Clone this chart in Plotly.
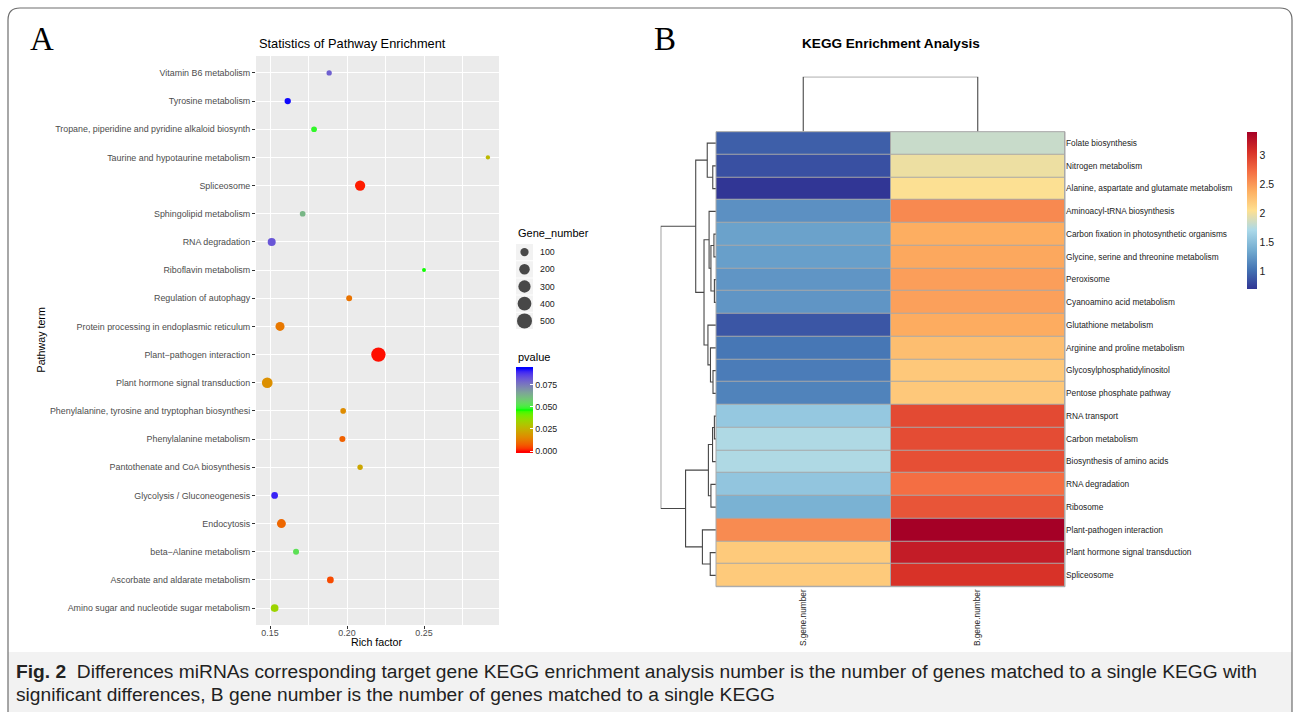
import numpy as np
import plotly.graph_objects as go

W, H = 1295, 712

# ---------------- Panel A data ----------------
PATHWAYS = [
    "Vitamin B6 metabolism",
    "Tyrosine metabolism",
    "Tropane, piperidine and pyridine alkaloid biosynth",
    "Taurine and hypotaurine metabolism",
    "Spliceosome",
    "Sphingolipid metabolism",
    "RNA degradation",
    "Riboflavin metabolism",
    "Regulation of autophagy",
    "Protein processing in endoplasmic reticulum",
    "Plant\u2212pathogen interaction",
    "Plant hormone signal transduction",
    "Phenylalanine, tyrosine and tryptophan biosynthesi",
    "Phenylalanine metabolism",
    "Pantothenate and CoA biosynthesis",
    "Glycolysis / Gluconeogenesis",
    "Endocytosis",
    "beta\u2212Alanine metabolism",
    "Ascorbate and aldarate metabolism",
    "Amino sugar and nucleotide sugar metabolism",
]
RICH_FACTOR = [0.1884, 0.1615, 0.1786, 0.2915, 0.2085, 0.1712, 0.1511, 0.2500, 0.2014, 0.1565,
               0.2204, 0.1482, 0.1975, 0.1970, 0.2085, 0.1530, 0.1574, 0.1669, 0.1892, 0.1530]
GENE_NUMBER = [20, 40, 27, 7, 185, 27, 90, 4, 32, 130,
               450, 210, 26, 34, 21, 50, 125, 33, 52, 80]
PVALUE = [0.080, 0.0925, 0.048, 0.027, 0.001, 0.062, 0.082, 0.046, 0.011, 0.012,
          0.0002, 0.017, 0.016, 0.008, 0.022, 0.090, 0.009, 0.053, 0.005, 0.034]
SIZE_BREAKS = [100, 200, 300, 400, 500]
PVALUE_TICKS = [0.000, 0.025, 0.050, 0.075]
RICH_TICKS = [0.15, 0.20, 0.25]
RICH_MINOR = [0.175, 0.225, 0.275]

# ---------------- Panel B data ----------------
KEGG_TERMS = [
    "Folate biosynthesis",
    "Nitrogen metabolism",
    "Alanine, aspartate and glutamate metabolism",
    "Aminoacyl-tRNA biosynthesis",
    "Carbon fixation in photosynthetic organisms",
    "Glycine, serine and threonine metabolism",
    "Peroxisome",
    "Cyanoamino acid metabolism",
    "Glutathione metabolism",
    "Arginine and proline metabolism",
    "Glycosylphosphatidylinositol",
    "Pentose phosphate pathway",
    "RNA transport",
    "Carbon metabolism",
    "Biosynthesis of amino acids",
    "RNA degradation",
    "Ribosome",
    "Plant-pathogen interaction",
    "Plant hormone signal transduction",
    "Spliceosome",
]
SAMPLES = ["S.gene.number", "B.gene.number"]
S_VALUES = [0.92, 0.84, 0.70, 1.20, 1.31, 1.29, 1.23, 1.23, 0.87, 1.05,
            1.08, 1.12, 1.58, 1.73, 1.73, 1.56, 1.41, 2.57, 2.20, 2.20]
B_VALUES = [1.83, 1.98, 2.04, 2.58, 2.39, 2.42, 2.47, 2.46, 2.40, 2.28,
            2.21, 2.21, 2.92, 2.91, 2.89, 2.72, 2.86, 3.40, 3.20, 3.05]
HEAT_TICKS = [1, 1.5, 2, 2.5, 3]
# row dendrogram (linkage: leaves 0..19 in display order, merges numbered from 20)
ROW_MERGE_LEFT = [1, 0, 4, 6, 22, 3, 10, 9, 8, 25, 21, 12, 31, 15, 32, 18, 17, 34, 30]
ROW_MERGE_RIGHT = [2, 20, 5, 7, 23, 24, 11, 26, 27, 28, 29, 13, 14, 16, 33, 19, 35, 36, 37]
ROW_MERGE_HEIGHT = [0.14, 0.38, 0.09, 0.07, 0.22, 0.30, 0.13, 0.24, 0.35, 0.52, 0.88,
                    0.07, 0.15, 0.22, 0.33, 0.25, 0.59, 1.32, 2.40]
COL_MERGE_LEFT = [0]
COL_MERGE_RIGHT = [1]
COL_MERGE_HEIGHT = [6.0]

CAPTION_1 = ("<b>Fig. 2</b>  Differences miRNAs corresponding target gene KEGG enrichment analysis "
             "number is the number of genes matched to a single KEGG with")
CAPTION_2 = "significant differences, B gene number is the number of genes matched to a single KEGG"

# ---------------- helpers ----------------
def fx(px):
    return px / W


def fy(py):
    return 1 - py / H


def srgb_to_lab(rgb):
    c = np.array(rgb, dtype=float) / 255
    lin = np.where(c <= 0.04045, c / 12.92, ((c + 0.055) / 1.055) ** 2.4)
    M = np.array([[0.4124564, 0.3575761, 0.1804375],
                  [0.2126729, 0.7151522, 0.0721750],
                  [0.0193339, 0.1191920, 0.9503041]])
    xyz = M @ lin / np.array([0.95047, 1.0, 1.08883])
    f = np.where(xyz > 0.008856, np.cbrt(xyz), 7.787 * xyz + 16 / 116)
    return np.array([116 * f[1] - 16, 500 * (f[0] - f[1]), 200 * (f[1] - f[2])])


def lab_to_srgb(lab):
    L, a, b = lab
    fy_ = (L + 16) / 116
    fx_ = fy_ + a / 500
    fz_ = fy_ - b / 200
    f = np.array([fx_, fy_, fz_])
    xyz = np.where(f ** 3 > 0.008856, f ** 3, (f - 16 / 116) / 7.787) * np.array([0.95047, 1.0, 1.08883])
    Minv = np.array([[3.2404542, -1.5371385, -0.4985314],
                     [-0.9692660, 1.8760108, 0.0415560],
                     [0.0556434, -0.2040259, 1.0572252]])
    lin = np.clip(Minv @ xyz, 0, 1)
    c = np.where(lin <= 0.0031308, 12.92 * lin, 1.055 * lin ** (1 / 2.4) - 0.055)
    c = np.clip(np.round(c * 255), 0, 255).astype(int)
    return "rgb(%d,%d,%d)" % tuple(c)


GRAD = [(255, 0, 0), (0, 255, 0), (0, 0, 255)]
GRAD_LAB = [srgb_to_lab(c) for c in GRAD]


def grad_color(t):
    t = min(max(t, 0.0), 1.0)
    seg = t * (len(GRAD_LAB) - 1)
    i = min(int(seg), len(GRAD_LAB) - 2)
    u = seg - i
    return lab_to_srgb(GRAD_LAB[i] * (1 - u) + GRAD_LAB[i + 1] * u)


p_min, p_max = min(PVALUE), max(PVALUE)
p_pad = (p_max - p_min) * 0.025 / 0.95
c_min, c_max = p_min - p_pad, p_max + p_pad
p_scale = []
for s in np.linspace(0, 1, 61):
    v = c_min + s * (c_max - c_min)
    p_scale.append([float(s), grad_color((v - p_min) / (p_max - p_min))])


def point_diameter(n):
    return 2.88 + 0.542 * np.sqrt(np.array(n, dtype=float))


HEAT_COLORS = ["#313695", "#4575B4", "#74ADD1", "#ABD9E9", "#FEE090",
               "#FDAE61", "#F46D43", "#D73027", "#A50026"]
heat_scale = [[i / (len(HEAT_COLORS) - 1), c] for i, c in enumerate(HEAT_COLORS)]


def dendro_lines(left, right, height, n_leaves):
    pos = [float(i) for i in range(n_leaves)]
    hgt = [0.0] * n_leaves
    hs, ps = [], []
    for l, r, h in zip(left, right, height):
        hs += [hgt[l], h, h, hgt[r], None]
        ps += [pos[l], pos[l], pos[r], pos[r], None]
        pos.append((pos[l] + pos[r]) / 2)
        hgt.append(h)
    return hs, ps


SANS = "Liberation Sans, Arial, Helvetica, sans-serif"
fig = go.Figure()

# ---------------- Panel A: bubble chart ----------------
fig.add_trace(go.Scatter(
    x=RICH_FACTOR, y=PATHWAYS, mode="markers", xaxis="x", yaxis="y",
    marker=dict(size=point_diameter(GENE_NUMBER), color=PVALUE, colorscale=p_scale,
                cmin=c_min, cmax=c_max, opacity=1, line=dict(width=0),
                colorbar=dict(x=fx(516), xanchor="left", y=fy(410), yanchor="middle",
                              lenmode="pixels", len=86, thickness=17, outlinewidth=0,
                              xpad=0, ypad=0, tickvals=PVALUE_TICKS,
                              ticktext=["%.3f" % v for v in PVALUE_TICKS],
                              ticks="inside", ticklen=3, tickcolor="white", tickwidth=1,
                              tickfont=dict(family=SANS, size=8.8, color="#1a1a1a"))),
    hoverinfo="skip"))

# size legend keys
fig.add_trace(go.Scatter(
    x=[0.5] * len(SIZE_BREAKS), y=list(range(len(SIZE_BREAKS))), mode="markers",
    xaxis="x3", yaxis="y3",
    marker=dict(size=point_diameter(SIZE_BREAKS), color="black", line=dict(width=0)),
    hoverinfo="skip"))

# ---------------- Panel B: heatmap ----------------
z = [[s, b] for s, b in zip(S_VALUES, B_VALUES)]
all_vals = S_VALUES + B_VALUES
fig.add_trace(go.Heatmap(
    z=z, x=list(range(len(SAMPLES))), y=list(range(len(KEGG_TERMS))),
    xaxis="x2", yaxis="y2", colorscale=heat_scale, zmin=min(all_vals), zmax=max(all_vals),
    xgap=1, ygap=1, hoverinfo="skip",
    colorbar=dict(x=fx(1247.3), xanchor="left", y=fy(210.7), yanchor="middle",
                  lenmode="pixels", len=157, thickness=10, outlinewidth=0, xpad=0, ypad=0,
                  tickvals=HEAT_TICKS, ticktext=[("%g" % v) for v in HEAT_TICKS],
                  ticks="", tickfont=dict(family=SANS, size=10.5, color="#222222"))))

rh, rp = dendro_lines(ROW_MERGE_LEFT, ROW_MERGE_RIGHT, ROW_MERGE_HEIGHT, len(KEGG_TERMS))
fig.add_trace(go.Scatter(x=rh, y=rp, mode="lines", xaxis="x4", yaxis="y4",
                         line=dict(color="#474747", width=1.1), hoverinfo="skip"))
ch, cp = dendro_lines(COL_MERGE_LEFT, COL_MERGE_RIGHT, COL_MERGE_HEIGHT, len(SAMPLES))
fig.add_trace(go.Scatter(x=cp, y=ch, mode="lines", xaxis="x5", yaxis="y5",
                         line=dict(color="#474747", width=1.1), hoverinfo="skip"))

# ---------------- axes ----------------
hide = dict(visible=False, showgrid=False, zeroline=False, fixedrange=True)
tick_font = dict(family=SANS, size=8.9, color="#4d4d4d")
n_path = len(PATHWAYS)
fig.update_layout(
    xaxis=dict(domain=[fx(256), fx(499)], range=[0.1409, 0.2987], anchor="y",
               tickvals=RICH_TICKS, ticktext=["%.2f" % v for v in RICH_TICKS],
               showgrid=True, gridcolor="white", gridwidth=1.2, zeroline=False,
               ticks="outside", ticklen=3, tickcolor="#333333", tickwidth=1,
               tickfont=tick_font, ticklabelstandoff=-4,
               minor=dict(tickvals=RICH_MINOR, showgrid=True, gridcolor="white",
                          gridwidth=0.6, ticks="")),
    yaxis=dict(domain=[fy(625), fy(56)], type="category", categoryorder="array",
               categoryarray=PATHWAYS[::-1], range=[-0.6, n_path - 0.4], anchor="x",
               showgrid=True, gridcolor="white", gridwidth=1.2, zeroline=False,
               ticks="outside", ticklen=3, tickcolor="#333333", tickwidth=1,
               tickfont=tick_font),
    xaxis2=dict(domain=[fx(716), fx(1065)], range=[-0.5, len(SAMPLES) - 0.5], anchor="y2",
                tickvals=list(range(len(SAMPLES))), ticktext=SAMPLES, tickangle=-90,
                ticks="", showgrid=False, zeroline=False,
                tickfont=dict(family=SANS, size=8.3, color="#222222")),
    yaxis2=dict(domain=[fy(586.7), fy(131.7)], range=[len(KEGG_TERMS) - 0.5, -0.5], anchor="x2",
                side="right", tickvals=list(range(len(KEGG_TERMS))), ticktext=KEGG_TERMS,
                ticks="", showgrid=False, zeroline=False,
                tickfont=dict(family=SANS, size=8.3, color="#222222")),
    xaxis3=dict(domain=[fx(516), fx(533)], range=[0, 1], anchor="y3", **hide),
    yaxis3=dict(domain=[fy(329.5), fy(243.5)], range=[len(SIZE_BREAKS) - 0.5, -0.5],
                anchor="x3", **hide),
    xaxis4=dict(domain=[fx(660.7), fx(716)], range=[max(ROW_MERGE_HEIGHT), 0], anchor="y4", **hide),
    yaxis4=dict(domain=[fy(586.7), fy(131.7)], range=[len(KEGG_TERMS) - 0.5, -0.5], anchor="x4", **hide),
    xaxis5=dict(domain=[fx(716), fx(1065)], range=[-0.5, len(SAMPLES) - 0.5], anchor="y5", **hide),
    yaxis5=dict(domain=[fy(131.7), fy(76.7)], range=[0, max(COL_MERGE_HEIGHT)], anchor="x5", **hide),
)

# ---------------- shapes ----------------
shapes = []
# caption band
shapes.append(dict(type="rect", xref="paper", yref="paper", x0=fx(8), x1=fx(1292),
                   y0=fy(730), y1=fy(652), fillcolor="#F2F2F2", line=dict(width=0), layer="below"))
# panel A background
shapes.append(dict(type="rect", xref="paper", yref="paper", x0=fx(256), x1=fx(499),
                   y0=fy(625), y1=fy(56), fillcolor="#EBEBEB", line=dict(width=0), layer="below"))
# heatmap cell border colour (shows through gaps) + outline
shapes.append(dict(type="rect", xref="paper", yref="paper", x0=fx(716), x1=fx(1065),
                   y0=fy(586.7), y1=fy(131.7), fillcolor="#A8A8A8", line=dict(width=0), layer="below"))
shapes.append(dict(type="rect", xref="paper", yref="paper", x0=fx(716), x1=fx(1065),
                   y0=fy(586.7), y1=fy(131.7), fillcolor="rgba(0,0,0,0)",
                   line=dict(width=1, color="#A8A8A8"), layer="above"))
# legend key backgrounds
for i in range(len(SIZE_BREAKS)):
    shapes.append(dict(type="rect", xref="x3", yref="y3", x0=0, x1=1, y0=i - 0.47, y1=i + 0.47,
                       fillcolor="#F2F2F2", line=dict(width=0), layer="below"))
# rounded figure frame
r = 12
frame = ("M {a},{b} L {a},{c} Q {a},{d} {e},{d} L {f},{d} Q {g},{d} {g},{c} L {g},{b}").format(
    a=fx(8), b=fy(730), c=fy(8 + r), d=fy(8), e=fx(8 + r), f=fx(1292 - r), g=fx(1292))
shapes.append(dict(type="path", xref="paper", yref="paper", path=frame,
                   line=dict(color="#6e6e6e", width=1.2)))

# ---------------- annotations ----------------
ann = []


def text(x, y, t, size, color="black", xanchor="center", family=SANS, angle=0, yref="paper"):
    ann.append(dict(x=x, y=y, xref="paper", yref=yref, text=t, showarrow=False,
                    xanchor=xanchor, yanchor="middle", textangle=angle,
                    font=dict(family=family, size=size, color=color)))


text(fx(257), fy(43), "Statistics of Pathway Enrichment", 12.8, xanchor="left")
text(fx(40), fy(340.5), "Pathway term", 10.7, angle=-90)
text(fx(377.5), fy(642), "Rich factor", 10.7)
text(fx(516), fy(233), "Gene_number", 11, xanchor="left")
text(fx(516), fy(357), "pvalue", 11, xanchor="left")
for i, v in enumerate(SIZE_BREAKS):
    ann.append(dict(x=fx(538), y=i, xref="paper", yref="y3", text=str(v), showarrow=False,
                    xanchor="left", yanchor="middle",
                    font=dict(family=SANS, size=8.8, color="#1a1a1a")))
text(fx(891), fy(43), "<b>KEGG Enrichment Analysis</b>", 13.6)
SERIF = "Liberation Serif, DejaVu Serif, Times New Roman, serif"
text(fx(42), fy(39), "A", 33, family=SERIF)
text(fx(665), fy(39), "B", 33, family=SERIF)
text(fx(14), fy(671), CAPTION_1, 19.2, color="#222222", xanchor="left")
text(fx(14), fy(694), CAPTION_2, 19.2, color="#222222", xanchor="left")

fig.update_layout(
    width=W, height=H, autosize=False, margin=dict(l=0, r=0, t=0, b=0),
    paper_bgcolor="white", plot_bgcolor="rgba(0,0,0,0)", showlegend=False,
    shapes=shapes, annotations=ann,
)

fig.write_html("out.html", config={"displayModeBar": False},
               post_script="document.body.style.margin='0';")
